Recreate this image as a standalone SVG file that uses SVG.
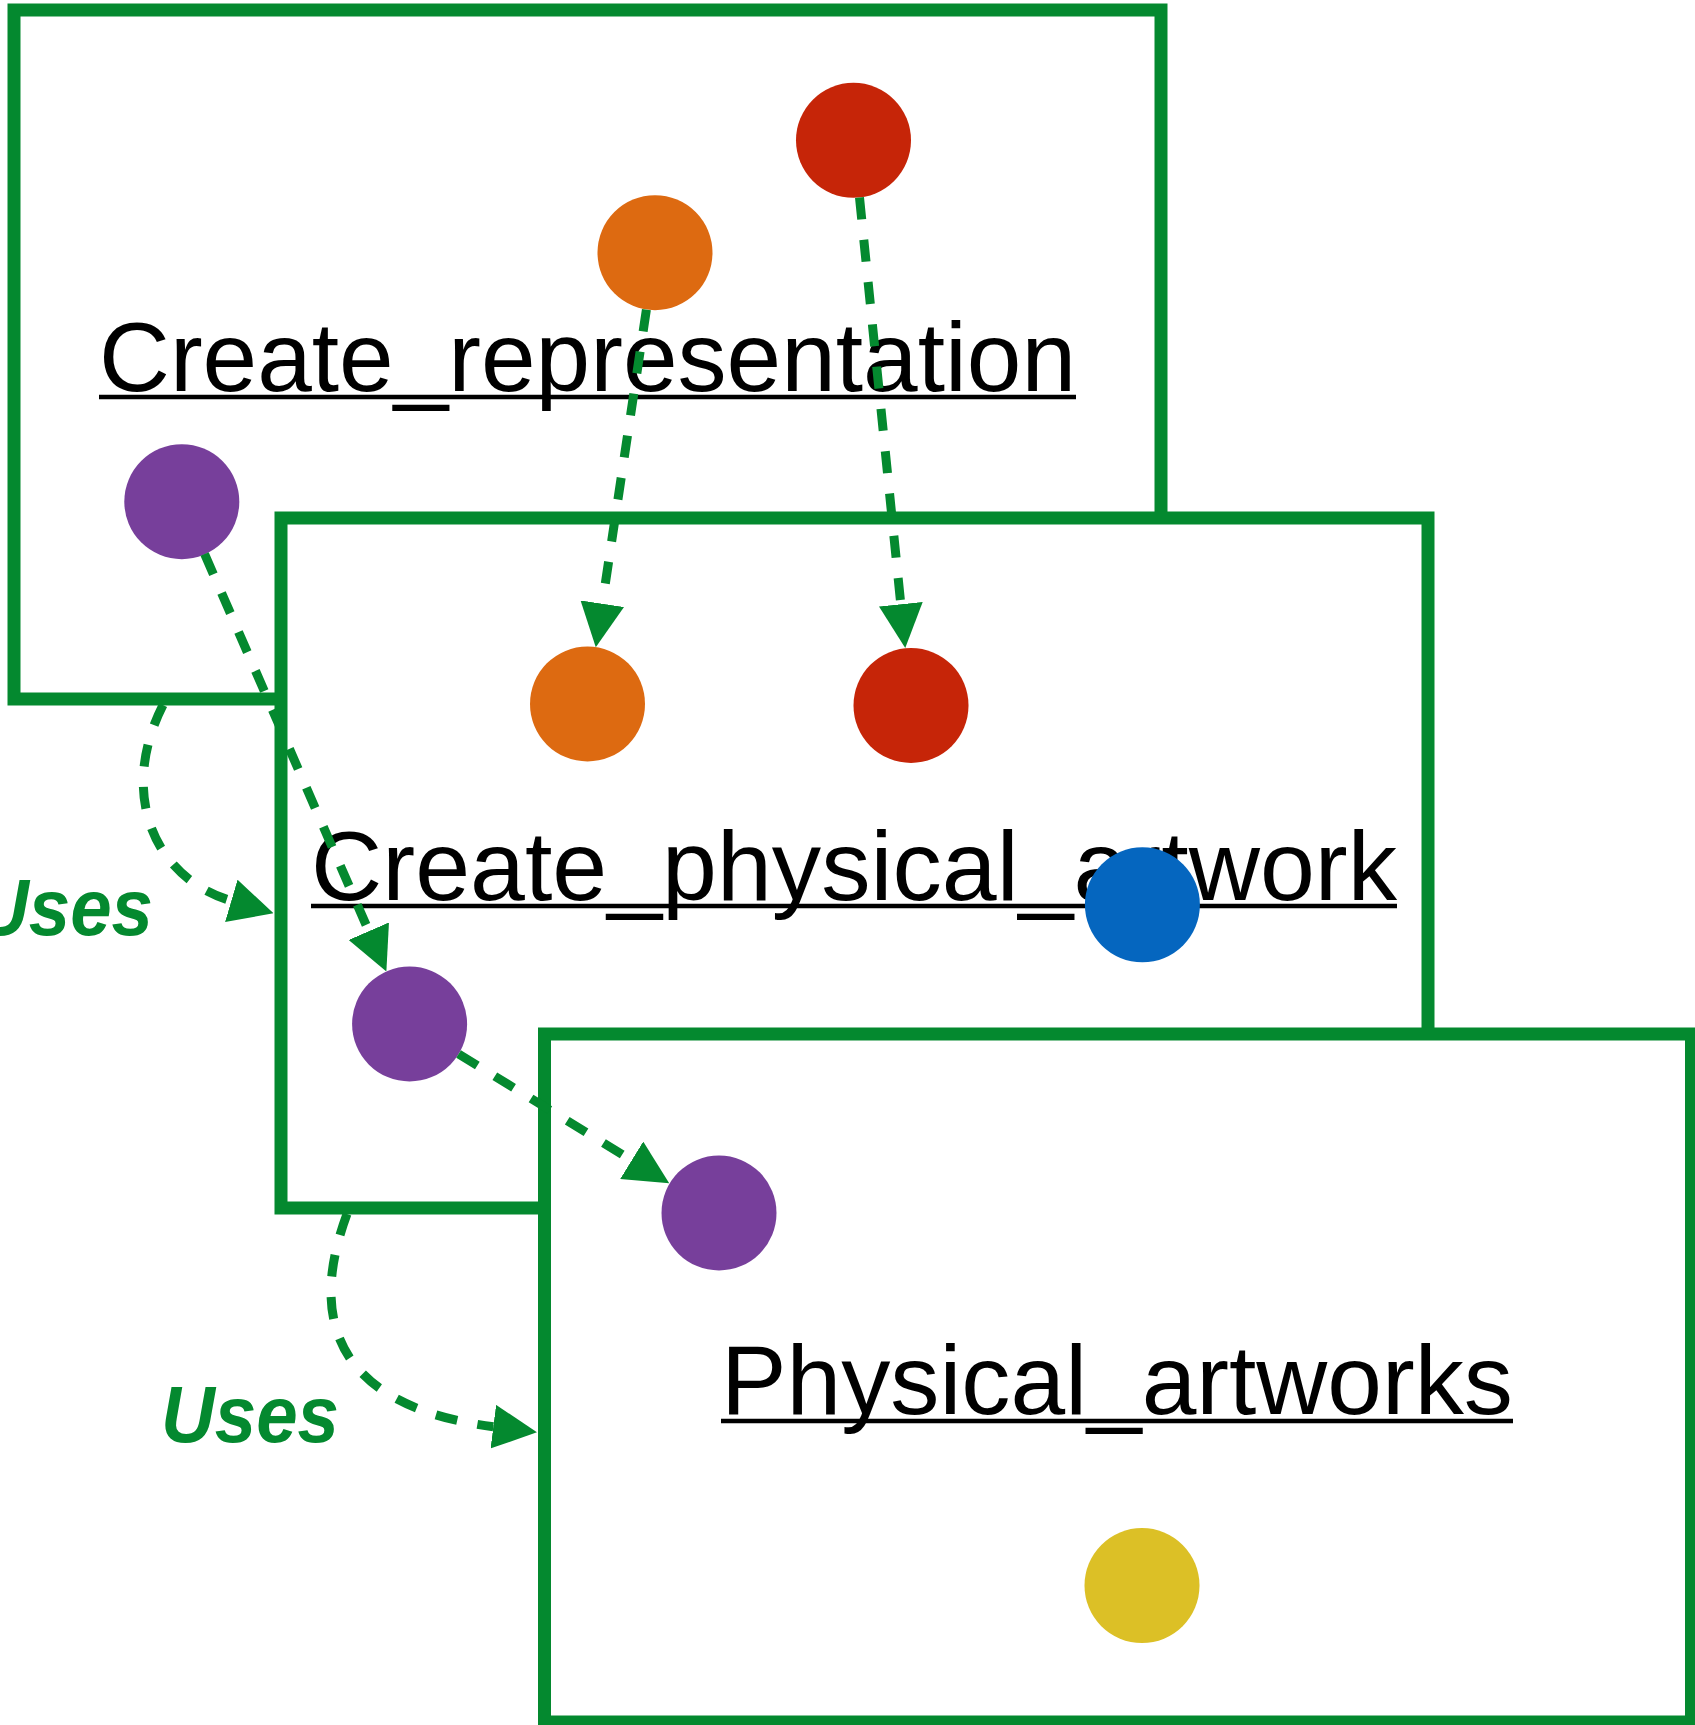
<svg xmlns="http://www.w3.org/2000/svg" width="1695" height="1725" viewBox="0 0 1695 1725">
<style>
.box{fill:#fff;stroke:#04892F;stroke-width:13}
.title{font-family:"Liberation Sans",Arial,sans-serif;font-size:98px;fill:#000}
.ul{stroke:#000;stroke-width:4.5}
.conn{fill:none;stroke:#04892F;stroke-width:9;stroke-dasharray:22 20.5}
.uses{font-family:"Liberation Sans",Arial,sans-serif;font-size:79px;font-weight:bold;font-style:italic;fill:#04892F}
.red{fill:#C62508}.orange{fill:#DD6A11}.purple{fill:#773F9B}.blue{fill:#0566BF}.yellow{fill:#DCC026}
</style>
<defs>
<marker id="ah" markerUnits="userSpaceOnUse" viewBox="0 -22 44 44" refX="0" refY="0" markerWidth="44" markerHeight="44" orient="auto">
<path d="M0,-22 L44,0 L0,22 Z" fill="#04892F"/>
</marker>
</defs>
<g id="create_representation">
<rect class="box" x="14" y="10" width="1147" height="689"/>
<text class="title" x="99" y="391" textLength="977" lengthAdjust="spacingAndGlyphs">Create_representation</text>
<line class="ul" x1="99" y1="397" x2="1076" y2="397"/>
</g>
<g id="cr_red"><circle class="red" cx="853.5" cy="140.3" r="57.5"/></g>
<g id="cr_orange"><circle class="orange" cx="655" cy="252.7" r="57.5"/></g>
<g id="cr_purple"><circle class="purple" cx="181.8" cy="501.7" r="57.5"/></g>
<g id="create_physical_artwork">
<rect class="box" x="281" y="518" width="1147" height="690"/>
<text class="title" x="311" y="900" textLength="1086" lengthAdjust="spacingAndGlyphs">Create_physical_artwork</text>
<line class="ul" x1="311" y1="906" x2="1397" y2="906"/>
</g>
<g id="cpa_orange"><circle class="orange" cx="587.5" cy="704" r="57.5"/></g>
<g id="cpa_red"><circle class="red" cx="911" cy="705.5" r="57.5"/></g>
<g id="cpa_blue"><circle class="blue" cx="1142.4" cy="904.8" r="57.5"/></g>
<g id="cpa_purple"><circle class="purple" cx="409.6" cy="1024" r="57.5"/></g>
<g id="physical_artworks">
<rect class="box" x="544.5" y="1034" width="1147" height="688"/>
<text class="title" x="721" y="1414" textLength="792" lengthAdjust="spacingAndGlyphs">Physical_artworks</text>
<line class="ul" x1="721" y1="1421" x2="1513" y2="1421"/>
</g>
<g id="pa_purple"><circle class="purple" cx="719" cy="1213" r="57.5"/></g>
<g id="pa_yellow"><circle class="yellow" cx="1142" cy="1585.6" r="57.5"/></g>
<g id="connectors">
<path class="conn" marker-end="url(#ah)" d="M204.6,554 L368.8,931.2"/>
<path class="conn" marker-end="url(#ah)" d="M646.4,309.6 L602.3,603.7"/>
<path class="conn" marker-end="url(#ah)" d="M859.5,197.5 L900.8,604.2"/>
<path class="conn" marker-end="url(#ah)" d="M458.6,1054 L631.7,1160.3"/>
<path class="conn" marker-end="url(#ah)" d="M163,705 C118,794 154,878 231.3,900.8"/>
<path class="conn" marker-end="url(#ah)" d="M347,1214 C301.5,1336 354,1409 493.3,1426.7"/>
<text class="uses" x="-25" y="935" textLength="178" lengthAdjust="spacingAndGlyphs">Uses</text>
<text class="uses" x="161" y="1442" textLength="178" lengthAdjust="spacingAndGlyphs">Uses</text>
</g>
</svg>
